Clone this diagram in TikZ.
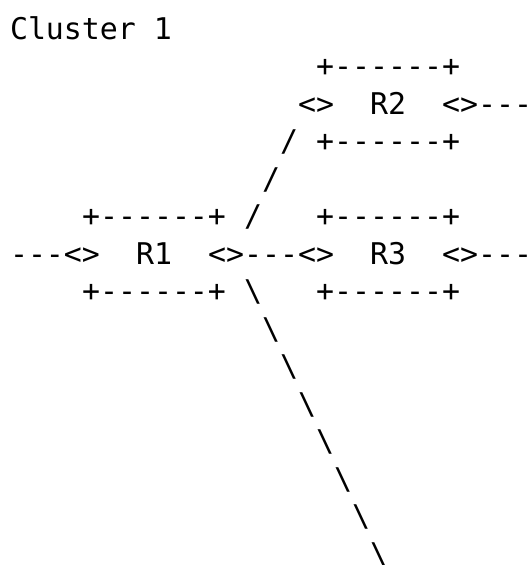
\documentclass[tikz,border=0pt]{standalone}
\usepackage{fontspec}
\setmonofont{DejaVu Sans Mono}
\usepackage{tikz}

\tikzset{ascii/.style = {font = \ttfamily\fontsize{29.9}{37.5}\selectfont, anchor = base west, inner sep = 0pt, outer sep = 0pt}}

\begin{document}
\begin{tikzpicture}[x = 18pt, y = 37.5pt]
\useasboundingbox (-10pt, 39pt) rectangle (521pt, -526pt);

\node [ascii] (title) at (0, 0) {Cluster 1};

\node [ascii] (r2top) at (17, -1) {+------+};
\node [ascii] (r2in) at (16, -2) {<>};
\node [ascii] (r2) at (20, -2) {R2};
\node [ascii] (r2out) at (24, -2) {<>---};
\node [ascii] (up0) at (15, -3) {/};
\node [ascii] (r2bot) at (17, -3) {+------+};
\node [ascii] (up1) at (14, -4) {/};

\node [ascii] (r1top) at (4, -5) {+------+};
\node [ascii] (up2) at (13, -5) {/};
\node [ascii] (r3top) at (17, -5) {+------+};

\node [ascii] (r1in) at (0, -6) {---<>};
\node [ascii] (r1) at (7, -6) {R1};
\node [ascii] (link) at (11, -6) {<>---<>};
\node [ascii] (r3) at (20, -6) {R3};
\node [ascii] (r3out) at (24, -6) {<>---};

\node [ascii] (r1bot) at (4, -7) {+------+};
\node [ascii] (r3bot) at (17, -7) {+------+};

% long leg down to the right
\foreach \r in {7,...,14}
  \node [ascii] (down\r) at ({\r + 6}, -\r) {\textbackslash};
\end{tikzpicture}
\end{document}
